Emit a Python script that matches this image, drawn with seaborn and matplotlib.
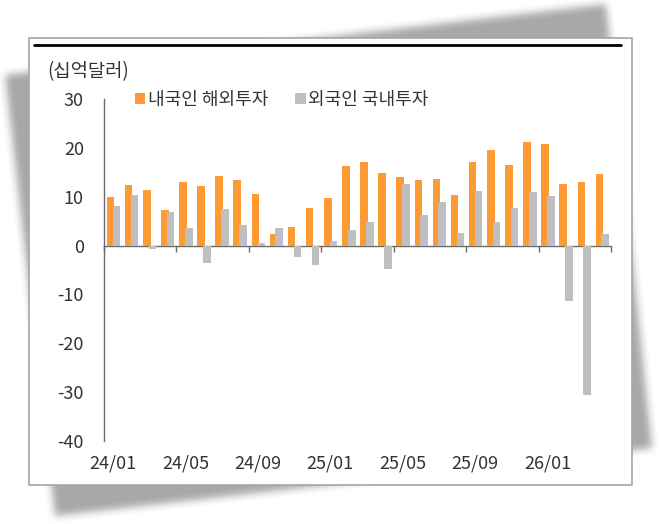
import numpy as np
import pandas as pd
import matplotlib.pyplot as plt
import seaborn as sns
from matplotlib.path import Path
from matplotlib.patches import Rectangle
from matplotlib.lines import Line2D

# 월별 자료 (십억달러)
months = ["24/01", "24/02", "24/03", "24/04", "24/05", "24/06", "24/07", "24/08",
          "24/09", "24/10", "24/11", "24/12", "25/01", "25/02", "25/03", "25/04",
          "25/05", "25/06", "25/07", "25/08", "25/09", "25/10", "25/11", "25/12",
          "26/01", "26/02", "26/03", "26/04"]
outbound = [10.0, 12.5, 11.4, 7.3, 13.1, 12.2, 14.2, 13.4, 10.6, 2.3, 3.7, 7.7,
            9.8, 16.3, 17.2, 14.8, 14.0, 13.5, 13.7, 10.4, 17.1, 19.6, 16.4, 21.1,
            20.7, 12.7, 13.1, 14.7]
inbound = [8.0, 10.3, -0.8, 6.8, 3.6, -3.6, 7.4, 4.3, 0.6, 3.5, -2.3, -4.0,
           1.0, 3.1, 4.9, -4.7, 12.7, 6.3, 9.0, 2.6, 11.1, 4.9, 7.6, 11.0,
           10.2, -11.3, -30.5, 2.3]
series_names = ["내국인 해외투자", "외국인 국내투자"]
colors = ["#ff9933", "#bfbfbf"]
y_ticks = [-40, -30, -20, -10, 0, 10, 20, 30]

df = pd.concat([
    pd.DataFrame({"month": months, "series": series_names[0], "value": outbound}),
    pd.DataFrame({"month": months, "series": series_names[1], "value": inbound}),
], ignore_index=True)

sns.set_style("white")
plt.rcParams["font.family"] = ["Noto Sans CJK KR", "DejaVu Sans"]
plt.rcParams["axes.unicode_minus"] = False
txt = "#333333"
axis_c = "#6a6a6a"
fs = 13

W, H = 661, 524
fig = plt.figure(figsize=(W / 100, H / 100), dpi=100)

# 배경 그림자 (기울어진 종이)
yy, xx = np.mgrid[0:H, 0:W]
shadow = Path([(5, 75), (606, 4), (652, 448), (55, 516)])
mask = shadow.contains_points(np.c_[xx.ravel() + 0.5, yy.ravel() + 0.5]).reshape(H, W).astype(float)
k = np.ones(9) / 9
for _ in range(2):
    mask = np.apply_along_axis(lambda r: np.convolve(r, k, mode="same"), 1, mask)
    mask = np.apply_along_axis(lambda c: np.convolve(c, k, mode="same"), 0, mask)
img = np.zeros((H, W, 4))
img[..., :3] = 0.66
img[..., 3] = mask
fig.figimage(img, origin="upper", zorder=0)

# 흰 패널
fig.add_artist(Rectangle((29 / W, 1 - 485 / H), (632 - 29) / W, (485 - 38) / H,
                         transform=fig.transFigure, facecolor="white",
                         edgecolor="#a6a6a6", lw=1.2, zorder=1))
fig.add_artist(Line2D([34 / W, 621 / W], [1 - 44.5 / H] * 2, color="black", lw=2,
                      transform=fig.transFigure, zorder=2))

ax = fig.add_axes([104 / W, 1 - 441 / H, (611 - 104) / W, (441 - 99) / H])
ax.set_zorder(3)
ax.patch.set_visible(False)

sns.barplot(data=df, x="month", y="value", hue="series", palette=colors,
            width=0.84, saturation=1, linewidth=0, ax=ax)

# 막대 겹침 (엑셀 스타일)
for p in ax.containers[0]:
    p.set_x(p.get_x() + 0.07)
for p in ax.containers[1]:
    p.set_x(p.get_x() - 0.03)

ax.set_xlim(-0.5, len(months) - 0.5)
ax.set_ylim(-40, 30)
ax.set_yticks(y_ticks)
ax.set_yticklabels([str(v) for v in y_ticks])
ax.set_xticks(range(0, len(months), 4))
ax.set_xticklabels(months[::4])
ax.set_xlabel("")
ax.set_ylabel("")
for s in ["top", "right", "bottom"]:
    ax.spines[s].set_visible(False)
ax.spines["left"].set_color(axis_c)
ax.spines["left"].set_linewidth(1)
ax.tick_params(axis="y", length=3.5, width=1, color=axis_c, direction="out",
               pad=11, labelsize=fs, labelcolor=txt)
ax.tick_params(axis="x", length=0, pad=10, labelsize=fs, labelcolor=txt)

# 0 기준선과 구간 눈금
sec = ax.secondary_xaxis(0, transform=ax.transData)
sec.set_xticks(np.arange(-0.5, len(months), 4), labels=[])
sec.spines["bottom"].set_color(axis_c)
sec.spines["bottom"].set_linewidth(1)
sec.tick_params(length=4, width=1, color=axis_c, direction="out")

sns.move_legend(ax, loc="center left", bbox_to_anchor=(135 / W, 1 - 100 / H),
                bbox_transform=fig.transFigure, ncol=2, title=None, frameon=False,
                borderaxespad=0, borderpad=0, handlelength=0.58, handleheight=0.58,
                handletextpad=0.12, columnspacing=1.5, fontsize=fs, labelcolor=txt)

fig.text(47 / W, 1 - 72 / H, "(십억달러)", ha="left", va="center", fontsize=13.5,
         color=txt, zorder=4)

fig.savefig("out.png", dpi=100, facecolor="white")
